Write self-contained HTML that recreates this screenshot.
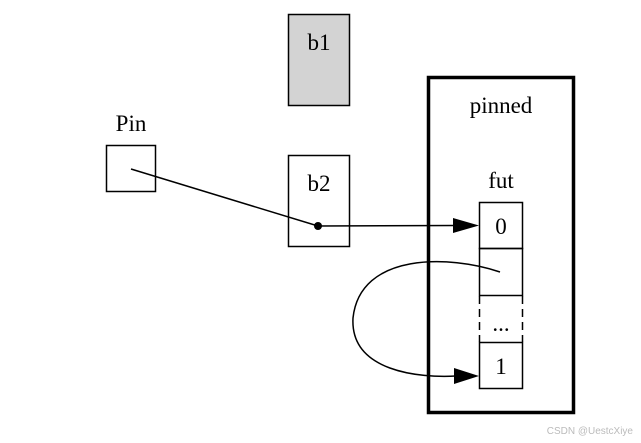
<!DOCTYPE html>
<html><head><meta charset="utf-8"><style>
html,body{margin:0;padding:0;background:#fff;}
svg{display:block;}
text{font-family:"Liberation Serif",serif;font-size:23px;fill:#000;}
</style></head><body>
<svg width="641" height="443" viewBox="0 0 641 443">
<rect x="288.5" y="14.5" width="61" height="91" fill="#d3d3d3" stroke="#000" stroke-width="1.5"/>
<text x="319" y="50" text-anchor="middle">b1</text>
<text x="131" y="131" text-anchor="middle">Pin</text>
<rect x="106.5" y="145.5" width="49" height="46" fill="none" stroke="#000" stroke-width="1.5"/>
<rect x="288.5" y="155.5" width="61" height="91" fill="none" stroke="#000" stroke-width="1.5"/>
<text x="319" y="191" text-anchor="middle">b2</text>
<rect x="428.5" y="77.5" width="145" height="335" fill="none" stroke="#000" stroke-width="3.5"/>
<text x="501" y="113" text-anchor="middle">pinned</text>
<text x="501" y="188" text-anchor="middle">fut</text>
<rect x="479.5" y="202.5" width="43" height="46" fill="none" stroke="#000" stroke-width="1.5"/>
<text x="501" y="234" text-anchor="middle">0</text>
<rect x="479.5" y="248.5" width="43" height="47" fill="none" stroke="#000" stroke-width="1.5"/>
<line x1="479.5" y1="296" x2="479.5" y2="342" stroke="#000" stroke-width="1.5" stroke-dasharray="8,5"/>
<line x1="522.5" y1="296" x2="522.5" y2="342" stroke="#000" stroke-width="1.5" stroke-dasharray="8,5"/>
<text x="501" y="331" text-anchor="middle">...</text>
<rect x="479.5" y="342.5" width="43" height="46" fill="none" stroke="#000" stroke-width="1.5"/>
<text x="501" y="374" text-anchor="middle">1</text>
<line x1="131" y1="169" x2="318" y2="226" stroke="#000" stroke-width="1.5"/>
<circle cx="318" cy="226" r="4" fill="#000"/>
<line x1="318" y1="226" x2="456" y2="225.5" stroke="#000" stroke-width="1.5"/>
<polygon points="453,218 479,225.5 453,233" fill="#000"/>
<path d="M500,272 C450,255 360,252 353,318 C350,372 420,378 456,376" fill="none" stroke="#000" stroke-width="1.5"/>
<polygon points="454,368 479,376 454,384" fill="#000"/>
<text x="633" y="434" text-anchor="end" style="font-family:'Liberation Sans',sans-serif;font-size:10px;fill:#bbb;">CSDN @UestcXiye</text>
</svg>
</body></html>
